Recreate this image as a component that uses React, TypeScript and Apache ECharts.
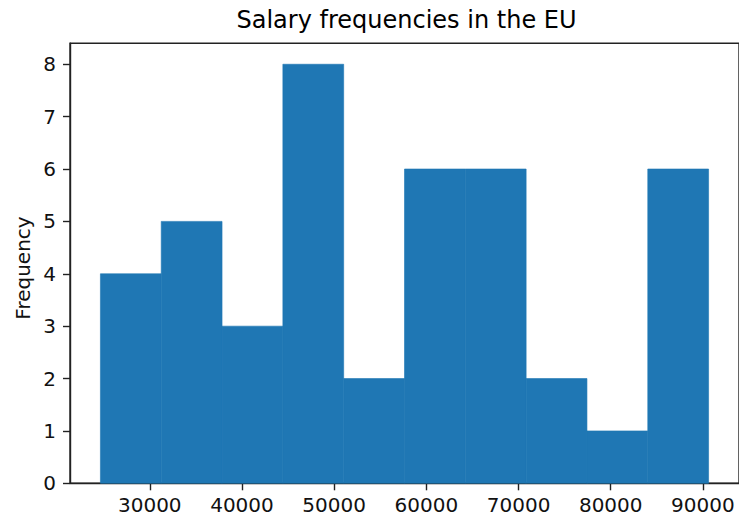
import React, { useEffect, useRef } from "react";
import * as echarts from "echarts";

// Histogram of salaries (10 bins)
const binCounts: number[] = [4, 5, 3, 8, 2, 6, 6, 2, 1, 6];
const dataMin = 24646;
const dataMax = 90614;
const xTickValues: number[] = [30000, 40000, 50000, 60000, 70000, 80000, 90000];
const yTickValues: number[] = [0, 1, 2, 3, 4, 5, 6, 7, 8];
const titleText = "Salary frequencies in the EU";
const yLabelText = "Frequency";

const FONT = "DejaVu Sans";

export default function App() {
  const ref = useRef<HTMLDivElement>(null);
  useEffect(() => {
    if (!ref.current) return;
    const chart = echarts.init(ref.current, undefined, { renderer: "svg" });
    const n = binCounts.length;
    const w = (dataMax - dataMin) / n;
    const bins = binCounts.map((c, i) => [dataMin + i * w, dataMin + (i + 1) * w, c]);
    const range = dataMax - dataMin;
    const xMin = dataMin - 0.05 * range;
    const xMax = dataMax + 0.05 * range;
    const yMax = Math.max(...binCounts) * 1.05;

    chart.setOption({
      animation: false,
      backgroundColor: "#ffffff",
      title: {
        text: titleText,
        left: 406.5,
        top: 8,
        textAlign: "center",
        padding: 0,
        textStyle: { fontFamily: FONT, fontSize: 24, fontWeight: "normal", color: "#000" },
      },
      grid: {
        left: 70,
        top: 43.3,
        width: 673.6,
        height: 440,
        show: true,
        borderColor: "#222",
        borderWidth: 1.4,
        backgroundColor: "transparent",
      },
      xAxis: {
        type: "value",
        min: xMin,
        max: xMax,
        splitLine: { show: false },
        axisLine: { show: true, onZero: false, lineStyle: { color: "#222", width: 1.4 } },
        axisTick: { show: true, length: 7, customValues: xTickValues, lineStyle: { color: "#222", width: 1.4 } },
        axisLabel: {
          customValues: xTickValues,
          margin: 12,
          fontFamily: FONT,
          fontSize: 20,
          color: "#111",
          formatter: (v: number) => String(v),
        },
      },
      yAxis: {
        type: "value",
        min: 0,
        max: yMax,
        splitLine: { show: false },
        axisLine: { show: true, lineStyle: { color: "#222", width: 1.4 } },
        axisTick: { show: true, length: 7, customValues: yTickValues, lineStyle: { color: "#222", width: 1.4 } },
        axisLabel: {
          customValues: yTickValues,
          margin: 14,
          fontFamily: FONT,
          fontSize: 20,
          color: "#111",
        },
      },
      graphic: [
        {
          type: "text",
          x: 23,
          y: 268,
          rotation: Math.PI / 2,
          style: {
            text: yLabelText,
            fontFamily: FONT,
            fontSize: 20,
            fill: "#111",
            textAlign: "center",
            textVerticalAlign: "middle",
          },
        },
      ],
      series: [
        {
          type: "custom",
          data: bins,
          encode: { x: [0, 1], y: 2 },
          renderItem: (params: any, api: any) => {
            const p0 = api.coord([api.value(0), api.value(2)]);
            const p1 = api.coord([api.value(1), 0]);
            return {
              type: "rect",
              shape: { x: p0[0], y: p0[1], width: p1[0] - p0[0], height: p1[1] - p0[1] },
              style: { fill: "#1f77b4", stroke: "#1f77b4", lineWidth: 0.6 },
            };
          },
          z: 1,
        },
      ],
    });
    return () => chart.dispose();
  }, []);
  return (
    <div
      ref={ref}
      style={{ position: "absolute", left: 0, top: 0, width: 739, height: 516, background: "#fff" }}
    />
  );
}
